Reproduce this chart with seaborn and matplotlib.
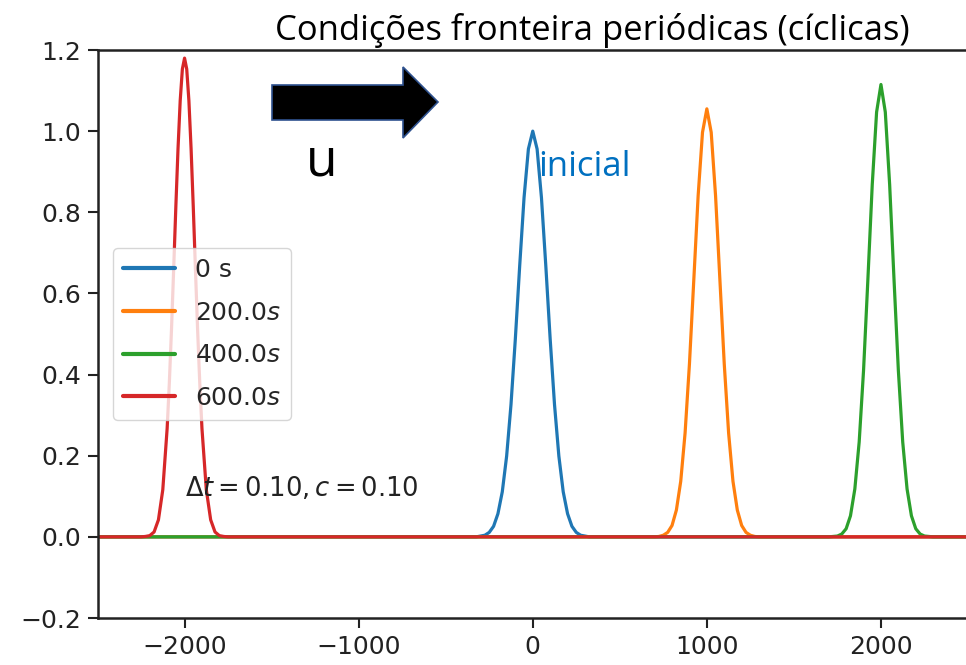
import matplotlib

matplotlib.use("Agg")
import matplotlib.pyplot as plt
import matplotlib.patches as mpatches
import seaborn as sns

# pulse snapshots (x positions and amplitudes)
x_0s = [-2500, -325, -300, -275, -250, -225, -200, -175, -150, -125, -100, -75, -50, -25, 0,
        25, 50, 75, 100, 125, 150, 175, 200, 225, 250, 275, 300, 325, 2500]
u_0s = [0, 0, 0.002, 0.004, 0.011, 0.026, 0.057, 0.111, 0.199, 0.326, 0.488, 0.668, 0.836, 0.956, 1.0,
        0.956, 0.836, 0.668, 0.488, 0.326, 0.199, 0.111, 0.057, 0.026, 0.011, 0.004, 0.002, 0, 0]

x_200s = [-2500, 675, 700, 725, 750, 775, 800, 825, 850, 875, 900, 925, 950, 975, 1000,
          1025, 1050, 1075, 1100, 1125, 1150, 1175, 1200, 1225, 1250, 1275, 1300, 1325, 2500]
u_200s = [0, 0, 0, 0.001, 0.004, 0.011, 0.028, 0.066, 0.137, 0.256, 0.426, 0.633, 0.841, 0.997, 1.055,
          0.997, 0.841, 0.633, 0.426, 0.256, 0.137, 0.066, 0.028, 0.011, 0.004, 0.001, 0, 0, 0]

x_400s = [-2500, 1675, 1700, 1725, 1750, 1775, 1800, 1825, 1850, 1875, 1900, 1925, 1950, 1975, 2000,
          2025, 2050, 2075, 2100, 2125, 2150, 2175, 2200, 2225, 2250, 2275, 2300, 2325, 2500]
u_400s = [0, 0, 0, 0.001, 0.002, 0.007, 0.020, 0.052, 0.118, 0.234, 0.410, 0.635, 0.868, 1.047, 1.115,
          1.047, 0.868, 0.635, 0.410, 0.234, 0.118, 0.052, 0.020, 0.007, 0.002, 0.001, 0, 0, 0]

x_600s = [-2500, -2250, -2225, -2200, -2175, -2150, -2125, -2100,
          -2087.5, -2075, -2062.5, -2050, -2037.5, -2025, -2012.5, -2000,
          -1987.5, -1975, -1962.5, -1950, -1937.5, -1925, -1912.5, -1900,
          -1875, -1850, -1825, -1800, -1775, -1750, 2500]
u_600s = [0, 0, 0.001, 0.003, 0.012, 0.042, 0.116, 0.267,
          0.378, 0.511, 0.660, 0.814, 0.957, 1.075, 1.153, 1.18,
          1.153, 1.075, 0.957, 0.814, 0.660, 0.511, 0.378, 0.267,
          0.116, 0.042, 0.012, 0.003, 0.001, 0, 0]

labels = ["0 s", r"$200.0s$", r"$400.0s$", r"$600.0s$"]
x_ticks = [-2000, -1000, 0, 1000, 2000]
y_ticks = [-0.2, 0.0, 0.2, 0.4, 0.6, 0.8, 1.0, 1.2]

sns.set_style("ticks")
plt.rcParams["font.family"] = ["DejaVu Sans"]
plt.rcParams["mathtext.fontset"] = "dejavusans"

W, H = 966, 665
fig = plt.figure(figsize=(W / 100, H / 100), dpi=100)
ax = fig.add_axes([97.5 / W, 1 - 618 / H, 870.5 / W, 568 / H])

colors = sns.color_palette("tab10", 4)
series = [(x_0s, u_0s), (x_200s, u_200s), (x_400s, u_400s), (x_600s, u_600s)]
for (xs, us), lab, col in zip(series, labels, colors):
    sns.lineplot(x=xs, y=us, ax=ax, color=col, label=lab, lw=2.3, sort=False)

ax.set_xlim(-2500, 2500)
ax.set_ylim(-0.2, 1.2)
ax.set_xticks(x_ticks)
ax.set_yticks(y_ticks)
ax.set_yticklabels([f"{v:.1f}".replace("-", "\u2212") for v in y_ticks])
ax.tick_params(labelsize=18, length=7, width=1.5, colors="#222222", pad=5)
for sp in ax.spines.values():
    sp.set_linewidth(1.8)
    sp.set_color("#222222")

ax.text(-2000, 0.1, r"$\Delta t = 0.10, c = 0.10$", fontsize=18.5, color="#222222")

leg = ax.legend(loc="center left", fontsize=18, labelspacing=0.75,
                handlelength=2.1, borderaxespad=0.6, framealpha=0.8)
for line in leg.get_lines():
    line.set_linewidth(3)

# slide overlays: title, arrow and labels
fig.text(275 / W, 1 - 40 / H, "Condições fronteira periódicas (cíclicas)",
         fontsize=24.9, family="Open Sans", color="black", va="baseline")
fig.text(538 / W, 1 - 176 / H, "inicial", fontsize=25, family="Open Sans",
         color="#0070C0", va="baseline")
fig.text(306 / W, 1 - 176 / H, "u", fontsize=37, family="Open Sans",
         color="black", va="baseline")

arrow_px = [(272, 85), (403, 85), (403, 67), (438, 102), (403, 138), (403, 120), (272, 120)]
arrow = mpatches.Polygon([(px / W, 1 - py / H) for px, py in arrow_px], closed=True,
                         facecolor="black", edgecolor="#2F528F", lw=1.2,
                         transform=fig.transFigure)
fig.patches.append(arrow)

fig.savefig("out.png", dpi=100)
